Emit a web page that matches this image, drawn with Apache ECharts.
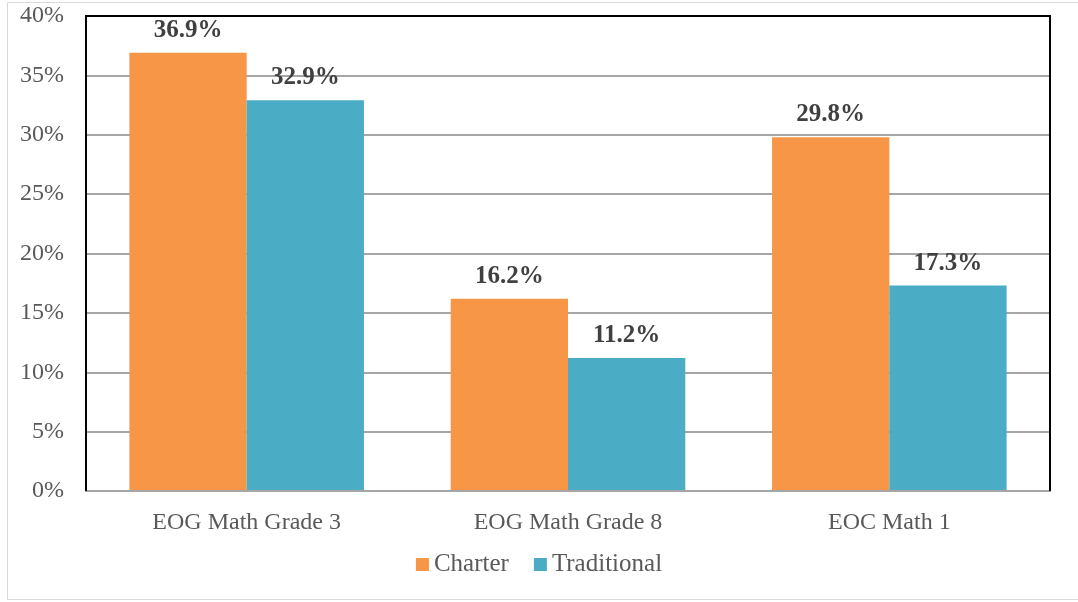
<!DOCTYPE html>
<html><head><meta charset="utf-8">
<script src="https://cdn.jsdelivr.net/npm/echarts@6/dist/echarts.min.js"></script>
<style>html,body{margin:0;padding:0;background:#fff}#c{width:1078px;height:602px}</style>
</head><body><div id="c"></div>
<script>
const categories = ['EOG Math Grade 3', 'EOG Math Grade 8', 'EOC Math 1'];
const charter = [36.9, 16.2, 29.8];
const traditional = [32.9, 11.2, 17.3];
const yTicks = [0, 5, 10, 15, 20, 25, 30, 35, 40];

const font = 'Liberation Serif, DejaVu Serif, serif';
const chart = echarts.init(document.getElementById('c'));
const lbl = {
  show: true, position: 'top', distance: 10,
  formatter: p => p.value.toFixed(1) + '%',
  fontFamily: font, fontWeight: 'bold', fontSize: 25, color: '#404040'
};
chart.setOption({
  animation: false,
  graphic: [
    {type: 'rect', shape: {x: 7.5, y: 2.5, width: 1080, height: 597}, style: {fill: 'none', stroke: '#d9d9d9', lineWidth: 1}, z: -1},
    {type: 'polyline', shape: {points: [[86, 491], [86, 16], [1050, 16], [1050, 491]]}, style: {fill: 'none', stroke: '#000', lineWidth: 2}, z: 10}
  ],
  grid: {left: 86, top: 16, width: 964, height: 475},
  legend: {
    bottom: 20, left: 'center', itemWidth: 13, itemHeight: 13, itemGap: 25,
    icon: 'rect',
    textStyle: {fontFamily: font, fontSize: 25, color: '#595959'},
    data: ['Charter', 'Traditional']
  },
  xAxis: {
    type: 'category', data: categories,
    axisLine: {show: true, lineStyle: {color: '#a6a6a6', width: 2}},
    axisTick: {show: false},
    axisLabel: {fontFamily: font, fontSize: 24, color: '#595959', margin: 20},
    z: 5
  },
  yAxis: {
    type: 'value', min: 0, max: 40, interval: 5,
    axisLine: {show: false}, axisTick: {show: false},
    splitLine: {lineStyle: {color: '#a6a6a6', width: 2}},
    axisLabel: {fontFamily: font, fontSize: 24, color: '#595959', margin: 22,
      formatter: v => yTicks.includes(v) ? v + '%' : ''}
  },
  series: [
    {name: 'Charter', type: 'bar', data: charter, barGap: '0%', barCategoryGap: '27%',
     itemStyle: {color: '#F79646'}, label: lbl},
    {name: 'Traditional', type: 'bar', data: traditional,
     itemStyle: {color: '#4BACC6'}, label: lbl}
  ]
});
</script></body></html>
